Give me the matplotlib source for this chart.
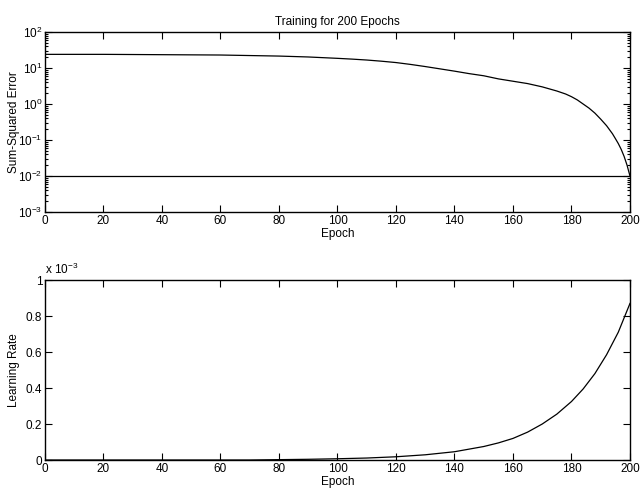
import numpy as np
import matplotlib
matplotlib.use("Agg")
import matplotlib.pyplot as plt
from matplotlib.ticker import LogLocator, NullFormatter

plt.rcParams['font.family'] = ['Liberation Sans', 'DejaVu Sans']
plt.rcParams['mathtext.fontset'] = 'custom'
plt.rcParams['mathtext.rm'] = 'Liberation Sans'
plt.rcParams['axes.unicode_minus'] = False
plt.rcParams['font.size'] = 8.5

# error curve
sse_epoch = [0, 20, 40, 60, 80, 90, 100, 105, 110, 115, 120, 125, 130, 135, 140,
             145, 150, 155, 160, 165, 170, 175, 178, 180, 182, 184, 186, 188,
             190, 192, 194, 195, 196, 197, 198, 199, 200]
sse = [24, 24, 23.5, 23, 21.5, 20.3, 18.6, 17.7, 16.7, 15.5, 14.2, 12.6, 11, 9.5, 8.2,
       7, 6.1, 5.0, 4.3, 3.7, 3.0, 2.3, 1.9, 1.6, 1.3, 1.0, 0.77, 0.56,
       0.38, 0.25, 0.15, 0.11, 0.08, 0.055, 0.035, 0.02, 0.01]
goal = 0.01

# learning rate (x 1e-3)
lr_epoch = [0, 40, 70, 80, 90, 100, 110, 120, 130, 140, 150, 155, 160, 165, 170,
            175, 180, 184, 188, 192, 196, 200]
lr_e3 = [0.0, 0.0, 0.0, 0.002, 0.004, 0.007, 0.011, 0.018, 0.029, 0.046, 0.075,
         0.095, 0.12, 0.155, 0.2, 0.255, 0.325, 0.395, 0.48, 0.585, 0.71, 0.87]

xticks = list(range(0, 201, 20))

fig = plt.figure(figsize=(6.41, 4.90), dpi=100)
ax1 = fig.add_axes([0.0702, 0.5673, 0.9126, 0.3673])
ax2 = fig.add_axes([0.0702, 0.0612, 0.9126, 0.3673])

for ax in (ax1, ax2):
    ax.tick_params(which='both', direction='in', top=True, right=True,
                   width=0.8, pad=2)
    ax.tick_params(which='major', length=5)
    ax.tick_params(which='minor', length=2.5)
    for s in ax.spines.values():
        s.set_linewidth(1.0)
    ax.set_xlim(0, 200)
    ax.set_xticks(xticks)
    ax.set_xlabel('Epoch', labelpad=1)

ax1.semilogy(sse_epoch, sse, color='black', lw=0.9)
ax1.axhline(goal, color='black', lw=0.9)
ax1.set_ylim(1e-3, 1e2)
ax1.yaxis.set_major_locator(LogLocator(base=10, numticks=10))
ax1.yaxis.set_minor_locator(LogLocator(base=10, subs=np.arange(2, 10), numticks=10))
ax1.yaxis.set_minor_formatter(NullFormatter())
ax1.tick_params(axis='x', which='minor', top=False, bottom=False)
ax1.set_ylabel('Sum-Squared Error')
ax1.yaxis.set_label_coords(-0.043, 0.5)
ax1.set_title('Training for 200 Epochs', fontsize=8.5, pad=5)

ax2.plot(lr_epoch, lr_e3, color='black', lw=0.9)
ax2.set_ylim(0, 1)
ax2.set_yticks([0, 0.2, 0.4, 0.6, 0.8, 1])
ax2.set_yticklabels(['0', '0.2', '0.4', '0.6', '0.8', '1'])
ax2.set_ylabel('Learning Rate')
ax2.yaxis.set_label_coords(-0.043, 0.5)
ax2.text(0.0, 1.015, 'x 10$^{-3}$', transform=ax2.transAxes,
         ha='left', va='bottom', fontsize=8.5)

fig.savefig('out.png', dpi=100)
